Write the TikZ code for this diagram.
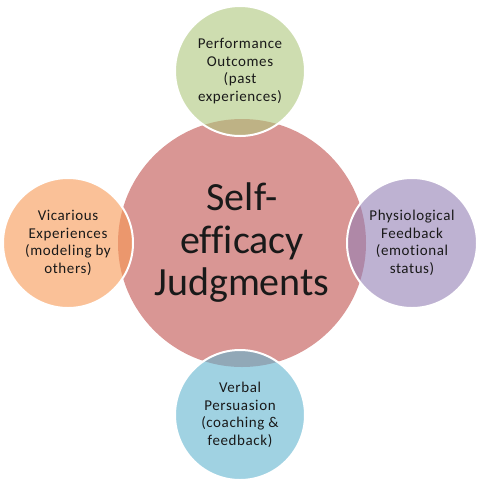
\documentclass[tikz,border=0pt]{standalone}
\usepackage{fontspec}
\setmainfont[Ligatures=NoCommon]{Carlito}
\usetikzlibrary{positioning}

\definecolor{hubred}{RGB}{217,150,148}
\definecolor{perfgreen}{RGB}{173,198,123}
\definecolor{vicorange}{RGB}{247,152,83}
\definecolor{physpurple}{RGB}{147,127,180}
\definecolor{verbblue}{RGB}{97,180,207}

\begin{document}
\begin{tikzpicture}[x=1pt, y=-1pt,
    every node/.style={outer sep=0pt, inner sep=0pt, align=center, text=black!90},
    hub/.style={circle, fill=hubred, minimum size=248pt,
        font=\fontsize{40}{42.5}\selectfont},
    source/.style={circle, draw=white, line width=2pt, fill opacity=0.6,
        text opacity=1, minimum size=130pt,
        font=\fontsize{15}{17.5}\selectfont\addfontfeatures{LetterSpace=4}}]
\useasboundingbox (0,0) rectangle (487,483);

%Nodes
\node[hub]                  (SE)    at (242,243)            {Self-\\efficacy\\Judgments};
\node[source, fill=perfgreen]   (PO)    [above=-17pt of SE, xshift=-2pt]
    {Performance\\Outcomes\\(past\\experiences)};
\node[source, fill=vicorange]   (VE)    [left=-15pt of SE]
    {Vicarious\\Experiences\\(modeling by\\others)};
\node[source, fill=physpurple]  (PF)    [right=-19pt of SE]
    {Physiological\\Feedback\\(emotional\\status)};
\node[source, fill=verbblue]    (VP)    [below=-17pt of SE, xshift=-2pt]
    {Verbal\\Persuasion\\(coaching \&\\feedback)};
\end{tikzpicture}
\end{document}
